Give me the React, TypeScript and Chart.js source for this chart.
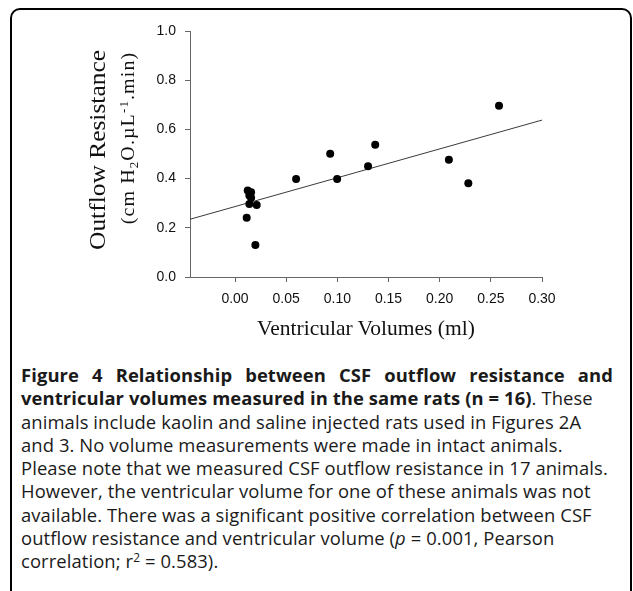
import React, { useEffect, useRef } from "react";
import { Chart, registerables } from "chart.js";

Chart.register(...registerables);

// Ventricular volume (ml) vs CSF outflow resistance (cm H2O.µL-1.min), n = 16
const volumes = [0.0124, 0.0157, 0.014, 0.0157, 0.014, 0.0212, 0.0114, 0.0199, 0.0597, 0.093, 0.0998, 0.13, 0.137, 0.209, 0.228, 0.258];
const resistances = [0.352, 0.345, 0.331, 0.322, 0.297, 0.293, 0.241, 0.13, 0.398, 0.501, 0.398, 0.45, 0.538, 0.477, 0.381, 0.696];

const xTicks = [0, 0.05, 0.1, 0.15, 0.2, 0.25, 0.3];
const yTicks = [0, 0.2, 0.4, 0.6, 0.8, 1.0];
const xRange = [-0.044, 0.3];
const yRange = [0, 1];

const xTitle = "Ventricular Volumes (ml)";
const yTitle = "Outflow Resistance";

function linearFit(xs: number[], ys: number[]) {
  const n = xs.length;
  const mx = xs.reduce((a, b) => a + b, 0) / n;
  const my = ys.reduce((a, b) => a + b, 0) / n;
  let sxy = 0;
  let sxx = 0;
  for (let i = 0; i < n; i++) {
    sxy += (xs[i] - mx) * (ys[i] - my);
    sxx += (xs[i] - mx) * (xs[i] - mx);
  }
  const slope = sxy / sxx;
  return { slope, intercept: my - slope * mx };
}

const tickFont = { family: "'Liberation Sans', Arial, sans-serif", size: 14 };
const axisColor = "#666";

function ScatterChart() {
  const ref = useRef<HTMLCanvasElement | null>(null);
  useEffect(() => {
    if (!ref.current) return;
    const fit = linearFit(volumes, resistances);
    const fitData = xRange.map((x) => ({ x, y: fit.intercept + fit.slope * x }));
    const chart = new Chart(ref.current, {
      type: "scatter",
      data: {
        datasets: [
          {
            type: "line",
            data: fitData,
            borderColor: "#3a3a3a",
            borderWidth: 1,
            pointRadius: 0,
            fill: false,
            order: 2,
          } as any,
          {
            data: volumes.map((v, i) => ({ x: v, y: resistances[i] })),
            backgroundColor: "#000",
            borderColor: "#000",
            borderWidth: 0,
            pointRadius: 4,
            order: 1,
          },
        ],
      },
      options: {
        animation: false,
        responsive: false,
        maintainAspectRatio: false,
        layout: { padding: { left: 0, right: 91, top: 31, bottom: 0 } },
        plugins: { legend: { display: false }, tooltip: { enabled: false } },
        scales: {
          x: {
            type: "linear",
            min: xRange[0],
            max: xRange[1],
            afterBuildTicks: (s: any) => {
              s.ticks = xTicks.map((value) => ({ value }));
            },
            afterFit: (s: any) => {
              s.height = 43;
            },
            grid: { drawOnChartArea: false, drawTicks: true, tickLength: 5, color: axisColor },
            border: { display: true, color: axisColor, width: 1 },
            ticks: {
              padding: 9,
              color: "#111",
              font: tickFont,
              maxRotation: 0,
              autoSkip: false,
              callback: (v: any) => Number(v).toFixed(2),
            },
          },
          y: {
            type: "linear",
            min: yRange[0],
            max: yRange[1],
            afterBuildTicks: (s: any) => {
              s.ticks = yTicks.map((value) => ({ value }));
            },
            afterFit: (s: any) => {
              s.width = 190;
            },
            grid: { drawOnChartArea: false, drawTicks: true, tickLength: 5, color: axisColor },
            border: { display: true, color: axisColor, width: 1 },
            ticks: {
              padding: 9,
              color: "#111",
              font: tickFont,
              autoSkip: false,
              callback: (v: any) => Number(v).toFixed(1),
            },
          },
        },
      },
    });
    return () => chart.destroy();
  }, []);
  return (
    <canvas
      ref={ref}
      width={633}
      height={320}
      style={{ position: "absolute", left: 0, top: 0, width: 633, height: 320 }}
    />
  );
}

const serif = "'Liberation Serif', 'Times New Roman', serif";
const sans = "'Open Sans', 'Noto Sans', sans-serif";

const supStyle: React.CSSProperties = { fontSize: "0.65em", lineHeight: 0, position: "relative", top: "-0.55em", verticalAlign: "baseline" };
const subStyle: React.CSSProperties = { fontSize: "0.65em", lineHeight: 0, position: "relative", top: "0.3em", verticalAlign: "baseline" };

export default function App() {
  const lineStyle: React.CSSProperties = { whiteSpace: "nowrap", height: 23.3, lineHeight: "23.3px" };
  return (
    <div
      style={{
        position: "fixed",
        left: 0,
        top: 0,
        width: 633,
        height: 591,
        background: "#fff",
        overflow: "hidden",
      }}
    >
      <div
        style={{
          position: "absolute",
          left: 10,
          top: 8,
          width: 622,
          height: 700,
          boxSizing: "border-box",
          border: "2px solid #000",
          borderRadius: 10,
        }}
      />
      <ScatterChart />
      <div
        style={{
          position: "absolute",
          left: 97,
          top: 150,
          transform: "translate(-50%, -50%) rotate(-90deg) scaleX(1.06)",
          fontFamily: serif,
          fontSize: 24,
          color: "#111",
          whiteSpace: "nowrap",
          lineHeight: 1,
        }}
      >
        {yTitle}
      </div>
      <div
        style={{
          position: "absolute",
          left: 128,
          top: 138,
          transform: "translate(-50%, -50%) rotate(-90deg) scaleX(1.11)",
          fontFamily: serif,
          fontSize: 18,
          letterSpacing: 1,
          color: "#111",
          whiteSpace: "nowrap",
          lineHeight: 1,
        }}
      >
        (cm H<span style={subStyle}>2</span>O.µL<span style={supStyle}>-1</span>.min)
      </div>
      <div
        style={{
          position: "absolute",
          left: 366,
          top: 329,
          transform: "translate(-50%, -50%)",
          fontFamily: serif,
          fontSize: 21.5,
          color: "#111",
          whiteSpace: "nowrap",
          lineHeight: 1,
        }}
      >
        {xTitle}
      </div>
      <div
        style={{
          position: "absolute",
          left: 21,
          top: 363,
          fontFamily: sans,
          fontSize: 18.4,
          letterSpacing: 0.1,
          color: "#1a1a1a",
        }}
      >
        <div
          style={{
            ...lineStyle,
            fontWeight: 700,
            width: 592,
            whiteSpace: "normal",
            overflow: "hidden",
            textAlign: "justify",
            textAlignLast: "justify",
          }}
        >
          Figure 4 Relationship between CSF outflow resistance and
        </div>
        <div style={lineStyle}>
          <b>ventricular volumes measured in the same rats (n = 16)</b>. These
        </div>
        <div style={lineStyle}>animals include kaolin and saline injected rats used in Figures 2A</div>
        <div style={lineStyle}>and 3. No volume measurements were made in intact animals.</div>
        <div style={lineStyle}>Please note that we measured CSF outflow resistance in 17 animals.</div>
        <div style={lineStyle}>However, the ventricular volume for one of these animals was not</div>
        <div style={lineStyle}>available. There was a significant positive correlation between CSF</div>
        <div style={lineStyle}>
          outflow resistance and ventricular volume (<i>p</i> = 0.001, Pearson
        </div>
        <div style={lineStyle}>
          correlation; r<span style={supStyle}>2</span> = 0.583).
        </div>
      </div>
    </div>
  );
}
